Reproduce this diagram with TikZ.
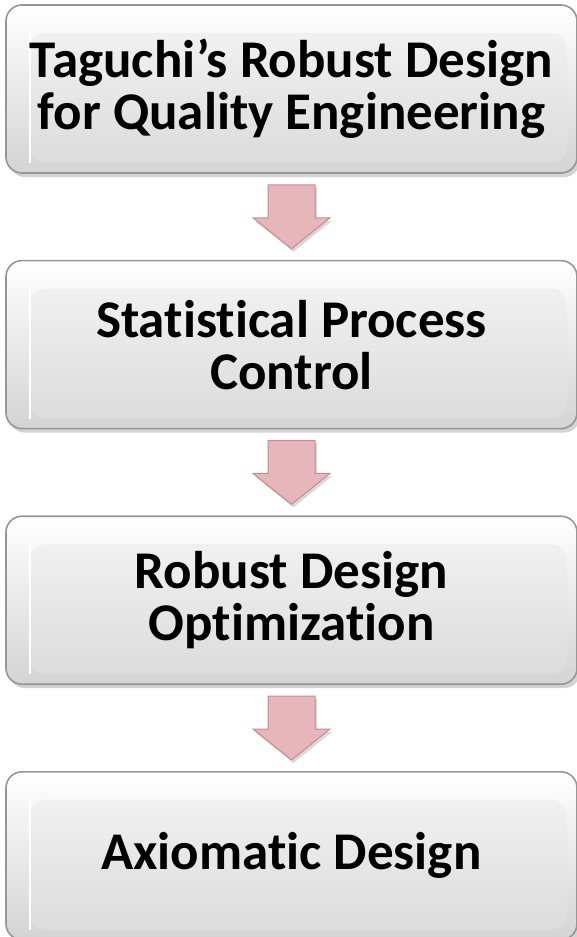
\documentclass[tikz,border=0pt]{standalone}
\usepackage{fontspec}
\setmainfont[Ligatures=NoCommon]{Carlito}
\usepackage{tikz}
\usetikzlibrary{positioning,calc,shadows}
\definecolor{boxedge}{RGB}{150,150,150}
\definecolor{boxlow}{RGB}{212,212,212}
\definecolor{arrowfill}{RGB}{230,182,186}
\definecolor{arrowedge}{RGB}{196,140,146}
\tikzstyle{stage} = [rectangle, rounded corners=8pt, draw=boxedge, line width=0.8pt,
  top color=white, bottom color=boxlow, minimum width=285.5pt, minimum height=84pt,
  align=center, font=\bfseries\fontsize{26.5}{26}\selectfont,
  drop shadow={shadow xshift=1.5pt, shadow yshift=-2pt, opacity=0.35},
  path picture={\shade[top color=white!96!black, bottom color=boxlow!85!white]
    ([xshift=12pt,yshift=-14pt]path picture bounding box.north west) rectangle
    ([xshift=-5pt,yshift=5pt]path picture bounding box.south east);
    \draw[white, line width=1.2pt]
    ([xshift=12pt,yshift=-14pt]path picture bounding box.north west) --
    ([xshift=12pt,yshift=5pt]path picture bounding box.south west);}]
\tikzstyle{blockarrow} = [draw=arrowedge, fill=arrowfill, line width=0.5pt, line join=miter,
  drop shadow={shadow xshift=1pt, shadow yshift=-1.5pt, opacity=0.3}]

\begin{document}
\begin{tikzpicture}[x=1pt,y=1pt,node distance=43pt]
  \useasboundingbox (0,0) rectangle (288.5,-468.5);
  \node[stage] (Taguchi) at (145.75,-44.5) {Taguchi’s Robust Design\\for Quality Engineering};
  \node[stage] (SPC) [below=of Taguchi] {Statistical Process\\Control};
  \node[stage] (RDO) [below=of SPC] {Robust Design\\Optimization};
  \node[stage] (AD) [below=of RDO] {Axiomatic Design};

  % block arrows between the stages
  \foreach \a/\b in {Taguchi/SPC, SPC/RDO, RDO/AD} {
    \coordinate (mid) at ($(\a.south)!0.5!(\b.north)$);
    \draw[blockarrow] (mid) ++(-11.75,16) -- ++(23.5,0) -- ++(0,-16.5) -- ++(7.5,0)
      -- ++(-19.25,-15.5) -- ++(-19.25,15.5) -- ++(7.5,0) -- cycle;
  }
\end{tikzpicture}
\end{document}
